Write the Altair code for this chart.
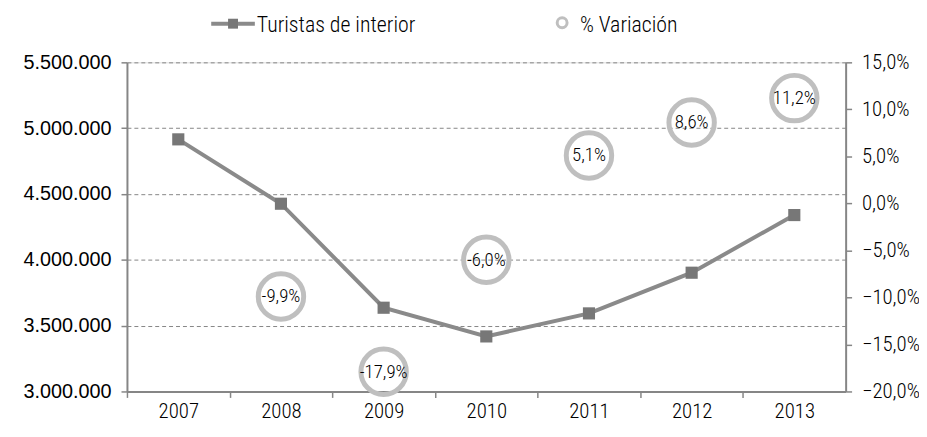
import altair as alt
import pandas as pd

years = ["2007", "2008", "2009", "2010", "2011", "2012", "2013"]
turistas = [4915000, 4426000, 3636000, 3418000, 3593000, 3902000, 4340000]
var_years = ["2008", "2009", "2010", "2011", "2012", "2013"]
variacion = [-0.099, -0.179, -0.060, 0.051, 0.086, 0.112]
var_labels = ["-9,9%", "-17,9%", "-6,0%", "5,1%", "8,6%", "11,2%"]

NARROW = "Roboto Condensed, sans-serif"
NW = 300
GRAY = "#868686"

df_t = pd.DataFrame({"year": years, "turistas": turistas})
df_v = pd.DataFrame({"year": var_years, "pct": variacion, "label": var_labels})

xscale = alt.Scale(type="point", domain=years, padding=0.5)
x_axis = alt.Axis(
    title=None, labelFont=NARROW, labelFontWeight=NW, labelFontSize=21, labelColor="#000",
    domainColor=GRAY, domainWidth=2, tickColor=GRAY, tickWidth=1.5, tickSize=6,
    tickOffset=-51.8, labelOffset=51.8, labelPadding=3, labelAngle=0, grid=False,
)

base_t = alt.Chart(df_t).encode(
    x=alt.X("year:O", scale=xscale, axis=x_axis),
    y=alt.Y("turistas:Q",
            scale=alt.Scale(domain=[3000000, 5500000], nice=False, zero=False),
            axis=alt.Axis(title=None, values=[3000000, 3500000, 4000000, 4500000, 5000000, 5500000],
                          format=",.0f", labelFont="Liberation Sans, Arial, sans-serif",
                          labelFontSize=20, labelColor="#000", domainColor=GRAY, domainWidth=2,
                          tickColor=GRAY, tickWidth=1.5, tickSize=6, labelPadding=10,
                          grid=True, gridColor=GRAY, gridDash=[4, 3], gridWidth=1)),
)
line = base_t.mark_line(color="#8a8a8a", strokeWidth=4)
pts = base_t.mark_point(shape="square", filled=True, color="#777777", size=150, opacity=1)
left = alt.layer(line, pts)

base_v = alt.Chart(df_v).encode(
    x=alt.X("year:O", scale=xscale, axis=x_axis),
    y=alt.Y("pct:Q", scale=alt.Scale(domain=[-0.2, 0.15], nice=False, zero=False),
            axis=alt.Axis(title=None, orient="right", values=[-0.2, -0.15, -0.1, -0.05, 0, 0.05, 0.1, 0.15],
                          format=".1%", labelFont=NARROW, labelFontWeight=NW, labelFontSize=21,
                          labelColor="#000", domainColor=GRAY, domainWidth=2, tickColor=GRAY,
                          tickWidth=1.5, tickSize=6, labelPadding=10, grid=False)),
)
circ = base_v.mark_point(shape="circle", filled=False, color="#bfbfbf", strokeWidth=5,
                         size=2100, opacity=1)
txt = base_v.mark_text(font=NARROW, fontWeight=NW, fontSize=19, color="#000").encode(text="label:N")
right = alt.layer(circ, txt)

one = pd.DataFrame({"a": [0]})
leg_line = alt.Chart(one).mark_rule(color="#8a8a8a", strokeWidth=4).encode(
    x=alt.value(85), x2=alt.value(129), y=alt.value(-39))
leg_sq = alt.Chart(one).mark_point(shape="square", filled=True, color="#777777", size=100, opacity=1).encode(
    x=alt.value(107), y=alt.value(-39))
leg_t1 = alt.Chart(one).mark_text(font=NARROW, fontWeight=NW, fontSize=22, color="#000", align="left").encode(
    x=alt.value(131), y=alt.value(-38), text=alt.value("Turistas de interior"))
leg_c = alt.Chart(one).mark_point(shape="circle", filled=False, color="#bfbfbf", strokeWidth=3,
                                  size=100, opacity=1).encode(x=alt.value(439), y=alt.value(-40))
leg_t2 = alt.Chart(one).mark_text(font=NARROW, fontWeight=NW, fontSize=22, color="#000", align="left").encode(
    x=alt.value(457), y=alt.value(-38), text=alt.value("% Variación"))

chart = alt.layer(left, right, leg_line, leg_sq, leg_t1, leg_c, leg_t2).resolve_scale(
    y="independent").properties(
    width=725, height=332,
    autosize=alt.AutoSizeParams(type="none"),
    padding={"left": 120, "top": 53, "right": 74, "bottom": 30},
).configure_view(stroke=None).configure(background="white")

chart.save("out.html", embed_options={
    "renderer": "svg", "actions": False,
    "formatLocale": {"decimal": ",", "thousands": ".", "grouping": [3], "currency": ["", " €"]},
})
